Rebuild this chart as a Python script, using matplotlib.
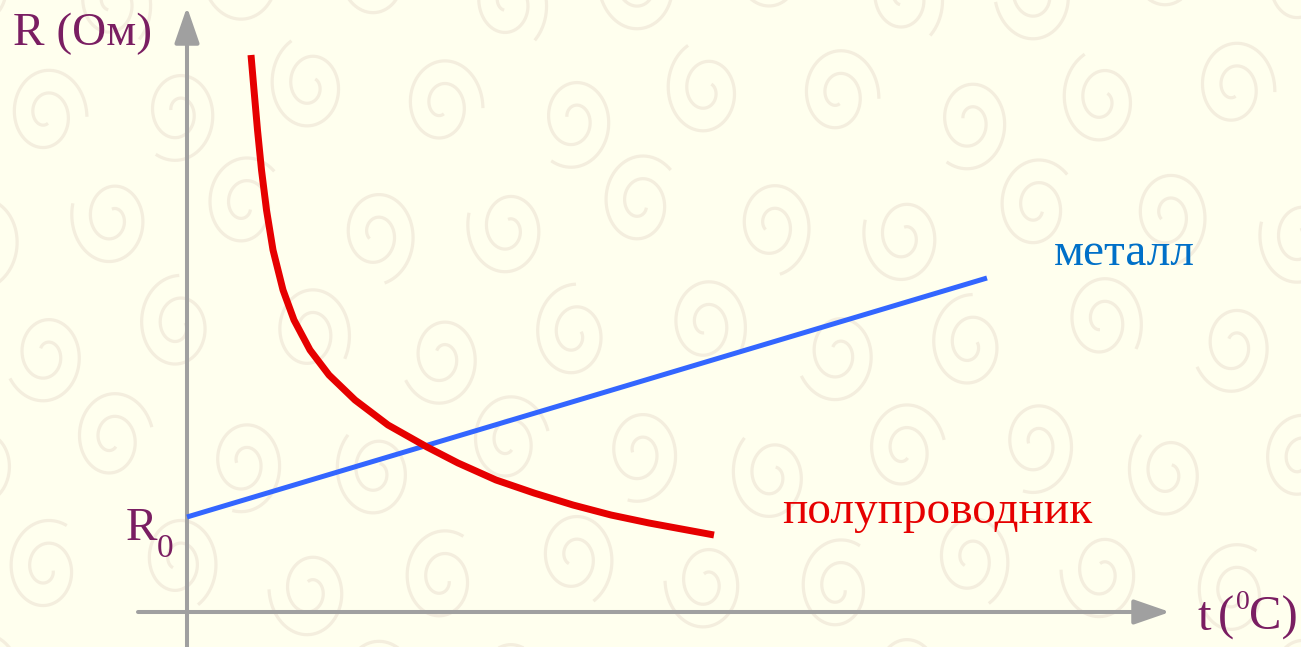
import numpy as np
import matplotlib
matplotlib.use("Agg")
import matplotlib.pyplot as plt

plt.rcParams['font.family'] = ['Liberation Serif', 'DejaVu Serif']

# ---- data (t and R in arbitrary units; origin where the axes cross) ----
metal_t = [0, 800]
metal_R = [95, 334]

semi_t = [64, 67, 70.5, 74.5, 79.5, 86, 96, 107, 123, 142, 168, 201, 240, 271,
          309, 347, 386, 424, 462, 527]
semi_R = [557, 522, 482, 442, 402, 362, 322, 292, 262, 237, 212, 187, 165, 149,
          132, 119, 107, 97, 89, 77]

label_metal = "металл"
label_semi = "полупроводник"
label_y = "R (Ом)"

# ---- colours ----
bg = "#FFFFEE"
spiral_col = "#F4EEDE"
axis_col = "#A0A0A0"
text_col = "#7A1E62"
blue = "#3366FF"
red = "#E60000"
blue_text = "#0070C8"

W, H = 1301, 647
fig = plt.figure(figsize=(W / 100, H / 100), dpi=100)
fig.patch.set_facecolor(bg)

# background decoration: spiral pattern
bgax = fig.add_axes([0, 0, 1, 1])
bgax.set_xlim(0, W)
bgax.set_ylim(H, 0)
bgax.axis('off')
bgax.set_zorder(0)
th = np.linspace(0, 1.8 * 2 * np.pi, 300)
r = 9 + 41 * th / th[-1]
for j in range(7):
    cy0 = -15 + 118 * j
    off = 0 if j % 2 == 0 else 66
    for i in range(12):
        cx = -20 + off + 132 * i
        cy = cy0 + 18 * np.sin(1.9 * i + 0.7 * j)
        rot = (i * 2.1 + j * 1.3) % (2 * np.pi)
        x = 0.82 * r * np.cos(th + rot)
        y = r * np.sin(th + rot)
        bgax.plot(cx + x, cy + y, color=spiral_col, lw=2.3,
                  solid_capstyle='butt')

# main axes in data coordinates
ax = fig.add_axes([0, 0, 1, 1])
ax.set_zorder(1)
ax.patch.set_alpha(0)
ax.set_xlim(-187, W - 187)
ax.set_ylim(-(H - 612), 612)
ax.axis('off')

arrow = dict(arrowstyle='-|>,head_length=1.1,head_width=0.38', color=axis_col,
             lw=2.9, shrinkA=0, shrinkB=0, mutation_scale=20)
ax.annotate("", xy=(0, 605), xytext=(0, -40), arrowprops=arrow)
ax.annotate("", xy=(983, 0), xytext=(-49, 0), arrowprops=arrow)

ax.plot(metal_t, metal_R, color=blue, lw=3.6, solid_capstyle='butt', zorder=3)
ax.plot(semi_t, semi_R, color=red, lw=5.0, solid_capstyle='butt',
        solid_joinstyle='round', zorder=4)

fs = 34
ax.text(-174, 612 - 45, label_y, color=text_col, fontsize=fs, va='baseline', ha='left')
# R0 label
ax.text(-61, 612 - 540, "R", color=text_col, fontsize=fs, va='baseline', ha='left')
ax.text(-30, 612 - 557, "0", color=text_col, fontsize=24, va='baseline', ha='left')
# t (0C) label
ax.text(1010, 612 - 630, "t", color=text_col, fontsize=35, va='baseline', ha='left')
ax.text(1031, 612 - 630, "(", color=text_col, fontsize=35, va='baseline', ha='left')
ax.text(1049, 612 - 609, "0", color=text_col, fontsize=20, va='baseline', ha='left')
ax.text(1062, 612 - 630, "C)", color=text_col, fontsize=35, va='baseline', ha='left')

ax.text(867, 612 - 265, label_metal, color=blue_text, fontsize=fs, va='baseline', ha='left')
ax.text(595, 612 - 523, label_semi, color=red, fontsize=fs, va='baseline', ha='left')

fig.savefig("out.png", dpi=100, facecolor=bg)
